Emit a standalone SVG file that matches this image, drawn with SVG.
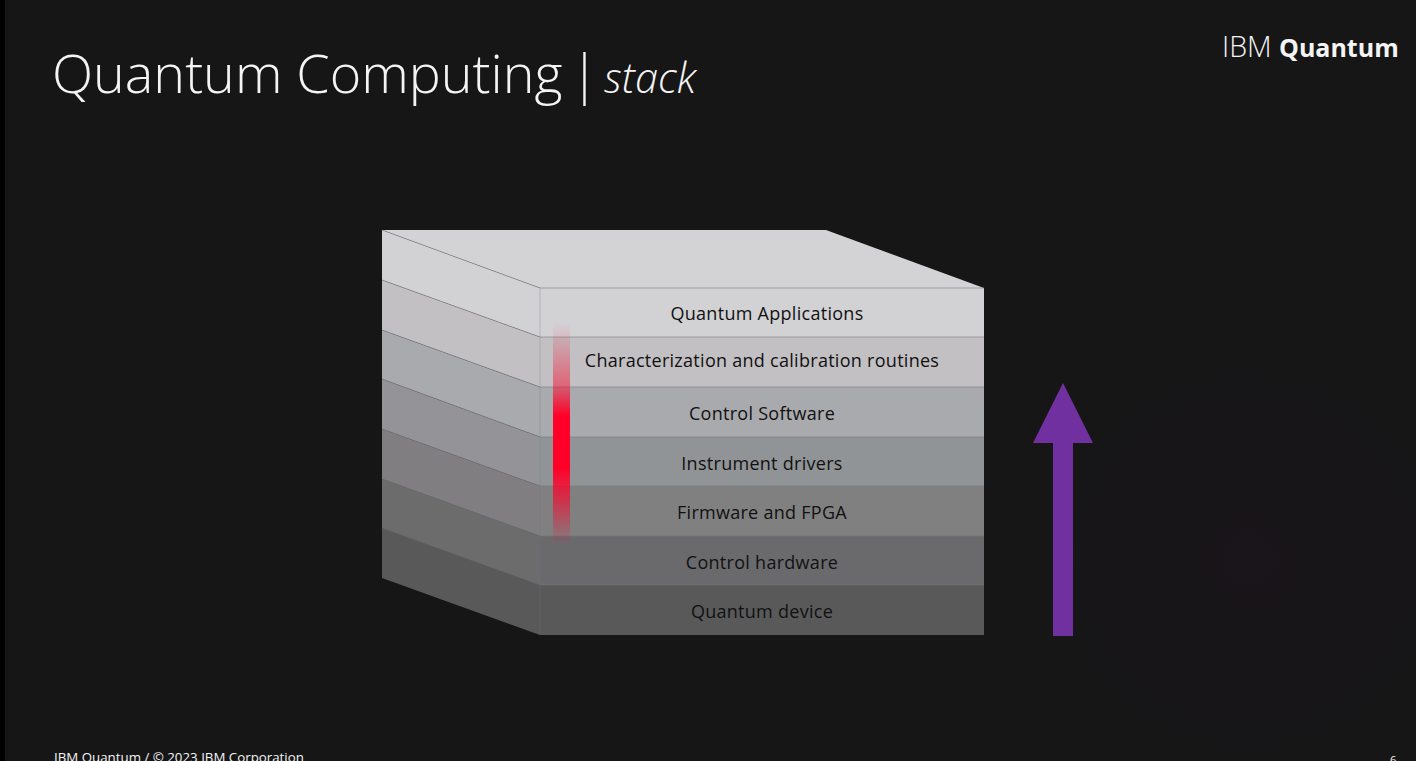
<svg xmlns="http://www.w3.org/2000/svg" width="1416" height="761" viewBox="0 0 1416 761">
<defs>
<linearGradient id="red" x1="0" y1="0" x2="0" y2="1">
<stop offset="0" stop-color="#ff0028" stop-opacity="0"/>
<stop offset="0.08" stop-color="#ff0028" stop-opacity="0.12"/>
<stop offset="0.3" stop-color="#ff0028" stop-opacity="0.5"/>
<stop offset="0.42" stop-color="#ff0028" stop-opacity="1"/>
<stop offset="0.65" stop-color="#ff0028" stop-opacity="1"/>
<stop offset="0.8" stop-color="#ff0028" stop-opacity="0.6"/>
<stop offset="0.93" stop-color="#ff0028" stop-opacity="0.2"/>
<stop offset="1" stop-color="#ff0028" stop-opacity="0"/>
</linearGradient>
<radialGradient id="glow" cx="1250" cy="560" r="260" gradientUnits="userSpaceOnUse">
<stop offset="0" stop-color="#19151a" stop-opacity="1"/>
<stop offset="1" stop-color="#19151a" stop-opacity="0"/>
</radialGradient>
</defs>
<style>
text{font-family:"Open Sans","Liberation Sans",sans-serif}
.lbl{font-size:18px;fill:#111;text-anchor:middle;letter-spacing:.28px}
.edge{stroke:#77777c;stroke-width:1;fill:none;stroke-opacity:.55}
.side{stroke:#77777b;stroke-width:.5;stroke-opacity:.6}
.foot{font-size:13.300px;fill:#f4f4f4}
</style>
<rect width="1416" height="761" fill="#161616"/>
<rect x="0" y="0" width="5" height="761" fill="#000"/>
<rect x="990" y="300" width="426" height="461" fill="url(#glow)"/>
<g id="title">
<text x="52" y="93" font-size="53.800" font-weight="300" fill="#f4f4f4">Quantum Computing</text>
<text x="570" y="93" font-size="53.800" font-weight="300" fill="#f4f4f4">|</text>
<text x="604" y="93" font-size="41.500" font-weight="300" font-style="italic" fill="#f4f4f4">stack</text>
</g>
<g id="logo">
<text x="1222" y="57" font-size="28.500" font-weight="300" fill="#f4f4f4">IBM</text>
<text x="1279" y="57" font-size="25" font-weight="700" fill="#f4f4f4">Quantum</text>
</g>
<g id="top-face"><polygon points="382,230 826,230 984,288 540,288" fill="#d3d3d6"/></g>
<g id="layer-applications">
<polygon points="382,230 540,288 540,337 382,280" fill="#d2d2d5"/>
<rect x="540" y="288" width="444" height="49" fill="#d2d2d5"/>
<text class="lbl" x="767" y="320">Quantum Applications</text>
</g>
<g id="layer-characterization">
<polygon points="382,280 540,337 540,387 382,330" fill="#c2c0c2"/>
<rect x="540" y="337" width="444" height="50" fill="#c2c0c2"/>
<text class="lbl" x="762" y="367">Characterization and calibration routines</text>
</g>
<g id="layer-control-software">
<polygon points="382,330 540,387 540,437 382,379" fill="#a9aaae"/>
<rect x="540" y="387" width="444" height="50" fill="#a9aaae"/>
<text class="lbl" x="762" y="420">Control Software</text>
</g>
<g id="layer-instrument-drivers">
<polygon points="382,379 540,437 540,486 382,429" fill="#949498"/>
<rect x="540" y="437" width="444" height="49" fill="#919497"/>
<text class="lbl" x="762" y="470">Instrument drivers</text>
</g>
<g id="layer-firmware">
<polygon points="382,429 540,486 540,536 382,479" fill="#807e80"/>
<rect x="540" y="486" width="444" height="50" fill="#808081"/>
<text class="lbl" x="762" y="519">Firmware and FPGA</text>
</g>
<g id="layer-control-hardware">
<polygon points="382,479 540,536 540,585 382,528" fill="#6c6c6d"/>
<rect x="540" y="536" width="444" height="49" fill="#6a6a6d"/>
<text class="lbl" x="762" y="569">Control hardware</text>
</g>
<g id="layer-quantum-device">
<polygon points="382,528 540,585 540,635 382,578" fill="#59595a"/>
<rect x="540" y="585" width="444" height="50" fill="#59595a"/>
<text class="lbl" x="762" y="618">Quantum device</text>
</g>
<g id="connectors">
<g class="edge">
<path d="M540 288H984M382 230L540 288"/>
<path d="M382 280L540 337H984M382 330L540 387H984M382 379L540 437H984M382 429L540 486H984M382 479L540 536H984M382 528L540 585H984"/>
</g>
<path class="side" d="M540 288V635"/>
<rect x="553" y="322" width="17" height="224" fill="url(#red)"/>
<g id="arrow"><polygon points="1063,383 1093,443 1073,443 1073,636 1053,636 1053,443 1033,443" fill="#7030a0"/></g>
</g>
<g id="footer">
<text class="foot" x="54" y="762">IBM Quantum / © 2023 IBM Corporation</text>
<text class="foot" x="1390" y="764" style="font-size:11px">6</text>
</g>
</svg>
